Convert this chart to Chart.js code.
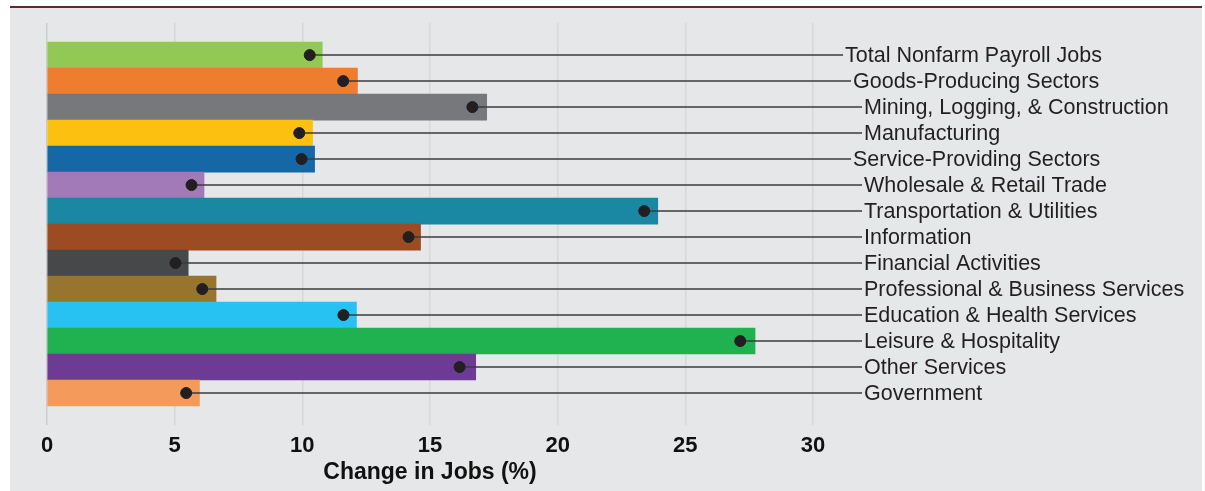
<!DOCTYPE html>
<html lang="en">

<head>
  <meta charset="UTF-8">
  <title>Change in Jobs</title>
  <script src="https://cdn.jsdelivr.net/npm/chart.js"></script>
  <style>
    body {
      margin: 0;
      background: #ffffff;
      font-family: "Liberation Sans", Arial, sans-serif;
    }

    #topline {
      position: absolute;
      left: 10px;
      top: 6px;
      width: 1192px;
      height: 2px;
      background: #62292b;
    }

    #panel {
      position: absolute;
      left: 10px;
      top: 8px;
      width: 1192px;
      height: 483px;
      background: #e6e7e9;
    }
  </style>
</head>

<body>
  <div id="topline"></div>
  <div id="panel">
    <canvas id="jobsChart" width="1192" height="483"></canvas>
  </div>

  <script>
    const sectors = [
      'Total Nonfarm Payroll Jobs',
      'Goods-Producing Sectors',
      'Mining, Logging, & Construction',
      'Manufacturing',
      'Service-Providing Sectors',
      'Wholesale & Retail Trade',
      'Transportation & Utilities',
      'Information',
      'Financial Activities',
      'Professional & Business Services',
      'Education & Health Services',
      'Leisure & Hospitality',
      'Other Services',
      'Government'
    ];

    // bar lengths (% change)
    const barValues = [10.78, 12.16, 17.22, 10.40, 10.48, 6.15, 23.92, 14.63, 5.53, 6.62, 12.12, 27.73, 16.79, 5.97];
    // dot positions (% change)
    const dotValues = [10.29, 11.60, 16.66, 9.88, 9.97, 5.66, 23.39, 14.16, 5.03, 6.08, 11.61, 27.15, 16.16, 5.45];

    const xTicks = [0, 5, 10, 15, 20, 25, 30];

    const barColors = [
      '#92c954', '#ee7d2f', '#77787b', '#fcc010', '#1567a6', '#a17ab7', '#1a87a3',
      '#9c4b23', '#474849', '#97752e', '#27c2f1', '#20b151', '#6d3a95', '#f49a5a'
    ];

    // label indent (px) to echo the sector hierarchy
    const labelIndent = [0, 8, 19, 19, 8, 19, 19, 19, 19, 19, 19, 19, 19, 19];

    const leaderPlugin = {
      id: 'leaders',
      afterDatasetDraw(chart, args) {
        if (args.index !== 1) return;
        const { ctx, chartArea, scales } = chart;
        ctx.save();
        ctx.strokeStyle = '#3b3b3d';
        ctx.lineWidth = 1.5;
        dotValues.forEach((v, i) => {
          const y = scales.y.getPixelForValue(i);
          const x0 = scales.x.getPixelForValue(v);
          const x1 = chartArea.right + 30 + labelIndent[i];
          ctx.beginPath();
          ctx.moveTo(x0, y);
          ctx.lineTo(x1, y);
          ctx.stroke();
        });
        ctx.restore();
      },
      afterDraw(chart) {
        const { ctx, chartArea, scales } = chart;
        ctx.save();
        ctx.fillStyle = '#231f20';
        ctx.font = '21.5px "Liberation Sans", Arial, sans-serif';
        ctx.textBaseline = 'middle';
        ctx.textAlign = 'left';
        sectors.forEach((s, i) => {
          const y = scales.y.getPixelForValue(i);
          ctx.fillText(s, chartArea.right + 32 + labelIndent[i], y + 1);
        });
        ctx.restore();
      }
    };

    const ctx = document.getElementById('jobsChart').getContext('2d');
    new Chart(ctx, {
      type: 'bar',
      data: {
        datasets: [
          {
            type: 'scatter',
            data: dotValues.map((v, i) => ({ x: v, y: i })),
            backgroundColor: '#231f20',
            borderColor: '#231f20',
            pointRadius: 5.5,
            pointHoverRadius: 5.5,
            order: 0
          },
          {
            type: 'bar',
            data: barValues.map((v, i) => ({ x: v, y: i })),
            backgroundColor: barColors,
            borderWidth: 0,
            barPercentage: 1,
            categoryPercentage: 1,
            order: 1
          }
        ]
      },
      options: {
        indexAxis: 'y',
        responsive: false,
        animation: false,
        layout: {
          padding: { left: 37, right: 389, top: 15, bottom: 5 }
        },
        plugins: {
          legend: { display: false },
          tooltip: { enabled: false }
        },
        scales: {
          x: {
            type: 'linear',
            axis: 'x',
            position: 'bottom',
            offset: false,
            min: 0,
            max: 30,
            afterBuildTicks(scale) {
              scale.ticks = xTicks.map(v => ({ value: v }));
            },
            grid: {
              offset: false,
              drawTicks: false,
              lineWidth: 1.5,
              color: ctx => ctx.tick && ctx.tick.value === 0 ? '#cbcbcb' : '#d8d8d8'
            },
            border: { display: false },
            ticks: {
              padding: 8,
              color: '#111111',
              font: { family: '"Liberation Sans", Arial, sans-serif', size: 22, weight: 'bold' }
            },
            title: {
              display: true,
              text: 'Change in Jobs (%)',
              color: '#111111',
              padding: { top: -9, bottom: 0 },
              font: { family: '"Liberation Sans", Arial, sans-serif', size: 23, weight: 'bold' }
            }
          },
          y: {
            type: 'linear',
            axis: 'y',
            offset: false,
            grid: { offset: false },
            reverse: true,
            min: -1.234,
            max: 14.23,
            display: false
          }
        }
      },
      plugins: [leaderPlugin]
    });
  </script>
</body>

</html>
